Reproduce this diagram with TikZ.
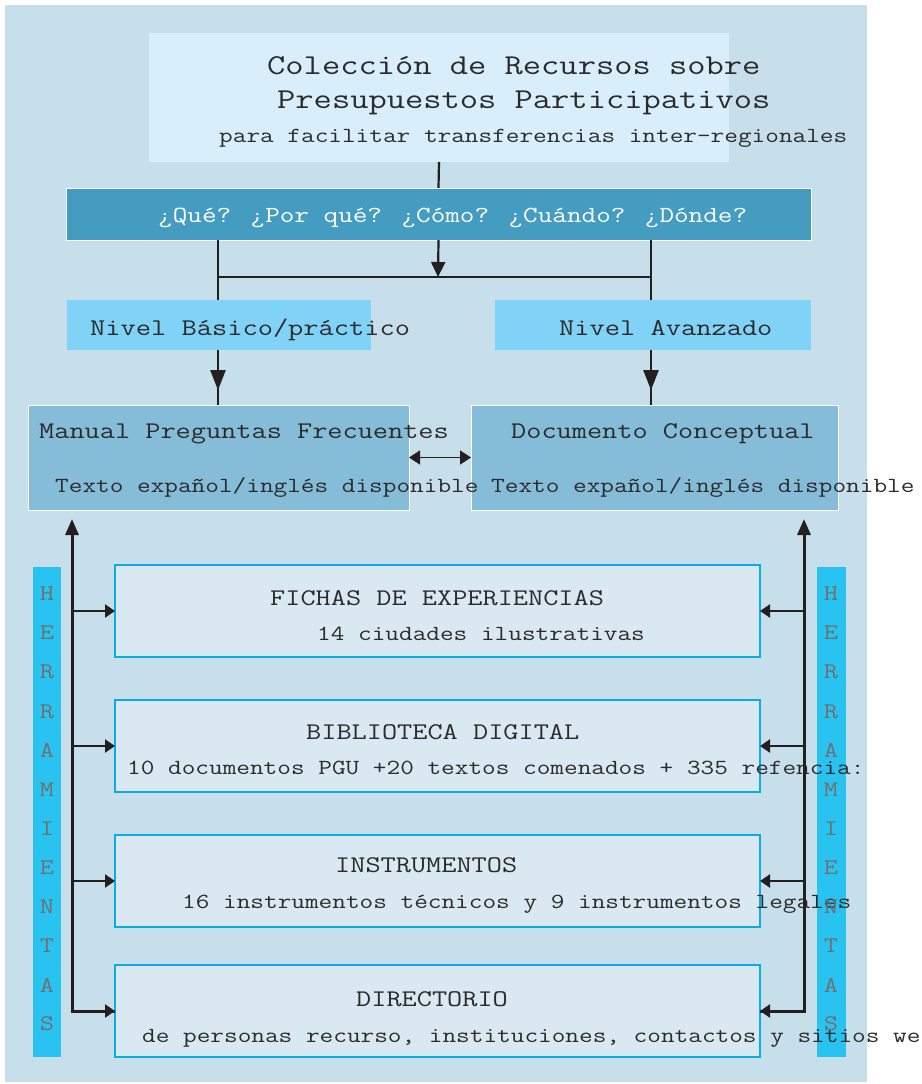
\documentclass[tikz,border=0pt]{standalone}
\usepackage{fontspec}
\usepackage{graphicx}
\usetikzlibrary{arrows.meta,decorations.markings}
\definecolor{panel}{HTML}{C7DFEB}
\definecolor{titlebg}{HTML}{D8EFFB}
\definecolor{qbg}{HTML}{449CC0}
\definecolor{nivbg}{HTML}{80D3F6}
\definecolor{docbg}{HTML}{85BDD8}
\definecolor{toolbg}{HTML}{DAE8F1}
\definecolor{toolline}{HTML}{0AACE6}
\definecolor{barbg}{HTML}{29C3F2}
\definecolor{ink}{HTML}{231F20}
\definecolor{txt}{HTML}{2B2B2B}
\definecolor{lettergray}{HTML}{707070}
\newcommand{\fs}[1]{\ttfamily\fontsize{#1}{#1}\selectfont}
\newcommand{\sx}[1]{\scalebox{1.232}[1]{#1}}
\begin{document}
\begin{tikzpicture}[x=1bp,y=-1bp,
  area/.style={anchor=north west, inner sep=0pt, outer sep=0pt},
  conn/.style={draw=ink, line width=2.2bp},
  tipbig/.style={-{Triangle[length=15bp,width=14bp]}},
  tipbranch/.style={-{Triangle[length=10bp,width=13bp]}},
  midarrow/.style={postaction={decorate}, decoration={markings, mark=at position 0.73 with {\arrow{Triangle[length=20bp,width=15bp]}}}},
  lbl/.style={anchor=base west, inner sep=0pt, text=txt},
  letter/.style={anchor=center, inner sep=0pt, text=lettergray, font=\fs{22.5}}]
\useasboundingbox (0,0) rectangle (922,1084);
% panel
\node[area, fill=panel, minimum width=862bp, minimum height=1077bp] (panelbox) at (5,5) {};
% boxes
\node[area, fill=titlebg, minimum width=580bp, minimum height=129bp] (title) at (149,33) {};
\node[area, fill=qbg, draw=white, line width=1bp, minimum width=745bp, minimum height=52bp] (qbar) at (66,188) {};
\node[area, fill=nivbg, minimum width=304bp, minimum height=50bp] (nivB) at (67,300) {};
\node[area, fill=nivbg, minimum width=316bp, minimum height=50bp] (nivA) at (495,300) {};
\node[area, fill=docbg, draw=white, line width=1bp, minimum width=381bp, minimum height=105bp] (manual) at (28,405) {};
\node[area, fill=docbg, draw=white, line width=1bp, minimum width=367bp, minimum height=105bp] (doc) at (471,405) {};
\node[area, fill=barbg, minimum width=28bp, minimum height=490bp] (barL) at (33,567) {};
\node[area, fill=barbg, minimum width=29bp, minimum height=490bp] (barR) at (817,567) {};
\node[area, fill=toolbg, draw=toolline, line width=2bp, minimum width=645bp, minimum height=92bp] (f1) at (115,565) {};
\node[area, fill=toolbg, draw=toolline, line width=2bp, minimum width=645bp, minimum height=92bp] (f2) at (115,700) {};
\node[area, fill=toolbg, draw=toolline, line width=2bp, minimum width=645bp, minimum height=92bp] (f3) at (115,835) {};
\node[area, fill=toolbg, draw=toolline, line width=2bp, minimum width=645bp, minimum height=92bp] (f4) at (115,965) {};
% texts
\node[lbl, font=\fs{28.9}] (t1) at (267,74) {\sx{Colección de Recursos sobre}};
\node[lbl, font=\fs{28.9}] (t2) at (277,108) {\sx{Presupuestos Participativos}};
\node[lbl, font=\fs{21.6}] (t3) at (219,142) {\sx{para facilitar transferencias inter-regionales}};
\node[lbl, font=\fs{23.1}, text=white] (tq) at (158,222) {\sx{¿Qué? ¿Por qué? ¿Cómo? ¿Cuándo? ¿Dónde?}};
\node[lbl, font=\fs{24.1}] (tnb) at (90,335) {\sx{Nivel Básico/práctico}};
\node[lbl, font=\fs{24.1}] (tna) at (559,335) {\sx{Nivel Avanzado}};
\node[lbl, font=\fs{24}] (tm) at (39,438) {\sx{Manual Preguntas Frecuentes}};
\node[lbl, font=\fs{21.6}] (tm2) at (55,492) {\sx{Texto expañol/inglés disponible}};
\node[lbl, font=\fs{24}] (td) at (511,438) {\sx{Documento Conceptual}};
\node[lbl, font=\fs{21.6}] (td2) at (491,492) {\sx{Texto expañol/inglés disponible}};
\node[lbl, font=\fs{24}] (tf1) at (270,605) {\sx{FICHAS DE EXPERIENCIAS}};
\node[lbl, font=\fs{21.6}] (tf1b) at (317,640) {\sx{14 ciudades ilustrativas}};
\node[lbl, font=\fs{24}] (tf2) at (306,739) {\sx{BIBLIOTECA DIGITAL}};
\node[lbl, font=\fs{21.6}] (tf2b) at (127,774) {\sx{10 documentos PGU +20 textos comenados + 335 refencia:}};
\node[lbl, font=\fs{24}] (tf3) at (335,872) {\sx{INSTRUMENTOS}};
\node[lbl, font=\fs{21.6}] (tf3b) at (182,908) {\sx{16 instrumentos técnicos y 9 instrumentos legales}};
\node[lbl, font=\fs{24}] (tf4) at (356,1006) {\sx{DIRECTORIO}};
\node[lbl, font=\fs{21.6}] (tf4b) at (142,1042) {\sx{de personas recurso, instituciones, contactos y sitios we}};
% HERRAMIENTAS letters
\foreach \ch [count=\i from 0] in {H,E,R,R,A,M,I,E,N,T,A,S} {
  \pgfmathsetmacro{\yy}{594+39.1*\i}
  \node[letter] (hl\i) at (47,\yy) {\sx{\ch}};
  \node[letter] (hr\i) at (831,\yy) {\sx{\ch}};
}
% connectors
\coordinate (jl) at (218,277);
\coordinate (jr) at (651,277);
\coordinate (jc) at (438,277);
\draw[conn] (title.south) -- (qbar.north);
\draw[conn] (qbar.south -| jl) -- (jl) -- (jr) -- (qbar.south -| jr);
\draw[conn, tipbig] (qbar.south) -- (jc);
\draw[conn] (jl) -- (jl |- nivB.north);
\draw[conn] (jr) -- (jr |- nivA.north);
\draw[conn, midarrow] (jl |- nivB.south) -- (jl |- manual.north);
\draw[conn, midarrow] (jr |- nivA.south) -- (jr |- doc.north);
\draw[draw=ink, line width=1.6bp, {Triangle[length=11bp,width=14bp]}-{Triangle[length=11bp,width=14bp]}] (manual.east) -- (doc.west);
% side rails
\coordinate (lt) at (72,519);
\coordinate (rt) at (804,519);
\draw[conn, line width=3bp, -{Triangle[length=16bp,width=13bp]}] (f4.west) -- (f4.west -| lt) -- (lt);
\draw[conn, line width=3bp, -{Triangle[length=16bp,width=13bp]}] (f4.east) -- (f4.east -| rt) -- (rt);
\foreach \b in {f1,f2,f3,f4} {
  \draw[conn, tipbranch] (\b.west -| lt) -- (\b.west);
  \draw[conn, tipbranch] (\b.east -| rt) -- (\b.east);
}
\end{tikzpicture}
\end{document}
